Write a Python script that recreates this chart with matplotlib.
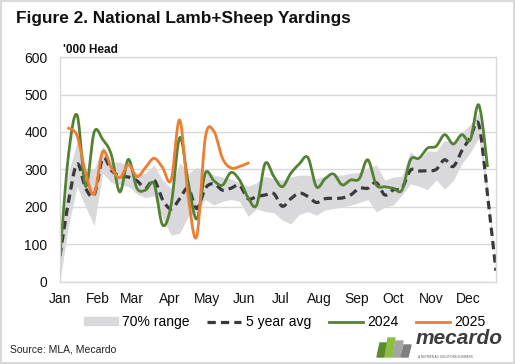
import numpy as np
import matplotlib.pyplot as plt
from matplotlib.lines import Line2D
from matplotlib.patches import Patch, Rectangle, Polygon

plt.rcParams['font.family'] = ['Liberation Sans', 'DejaVu Sans']

# weekly yardings, '000 head (week 1 .. week 52)
avg_5yr = [70, 215, 315, 250, 232, 330, 298, 282, 280, 270, 250, 272, 220, 195,
           222, 250, 196, 250, 262, 245, 250, 258, 222, 228, 232, 236, 202, 222,
           237, 228, 212, 222, 223, 224, 232, 250, 250, 265, 232, 246, 250, 298,
           296, 297, 300, 326, 308, 350, 385, 420, 235, 30]
range_hi = [90, 290, 375, 300, 300, 362, 320, 320, 310, 290, 290, 312, 272, 250,
            318, 290, 305, 300, 285, 280, 275, 265, 255, 265, 282, 275, 272, 280,
            285, 285, 276, 283, 285, 285, 290, 292, 305, 312, 272, 280, 282, 348,
            325, 350, 348, 378, 370, 400, 420, 450, 250, 35]
range_lo = [5, 150, 255, 200, 150, 290, 265, 260, 255, 235, 225, 230, 170, 125,
            130, 175, 185, 220, 205, 215, 220, 215, 175, 195, 188, 185, 165, 155,
            180, 188, 178, 192, 196, 200, 205, 212, 220, 187, 200, 205, 232, 262,
            255, 246, 272, 248, 270, 315, 345, 385, 220, 25]
y2024 = [70, 340, 445, 255, 400, 380, 340, 240, 327, 250, 245, 262, 152, 205,
         385, 265, 168, 290, 270, 258, 292, 272, 225, 205, 316, 282, 254, 290,
         315, 332, 254, 275, 288, 259, 272, 275, 326, 259, 254, 250, 245, 326,
         330, 357, 362, 393, 368, 393, 379, 472, 310]
# 2025 starts in week 2
y2025 = [410, 390, 290, 235, 348, 305, 278, 313, 281, 305, 330, 305, 272, 432,
         228, 122, 385, 402, 330, 304, 308, 317]

months = ['Jan', 'Feb', 'Mar', 'Apr', 'May', 'Jun', 'Jul', 'Aug', 'Sep', 'Oct', 'Nov', 'Dec']
month_start = [0, 31, 59, 90, 120, 151, 181, 212, 243, 273, 304, 334]


def smooth(x, y, n=20):
    # excel-style smoothed line (bezier with 1/6 tangents)
    x = np.asarray(x, float)
    y = np.asarray(y, float)
    px, py = [], []
    for i in range(len(x) - 1):
        x0, y0 = (x[i - 1], y[i - 1]) if i > 0 else (x[i], y[i])
        x3, y3 = (x[i + 2], y[i + 2]) if i + 2 < len(x) else (x[i + 1], y[i + 1])
        c1x = x[i] + (x[i + 1] - x0) / 6
        c1y = y[i] + (y[i + 1] - y0) / 6
        c2x = x[i + 1] - (x3 - x[i]) / 6
        c2y = y[i + 1] - (y3 - y[i]) / 6
        t = np.linspace(0, 1, n, endpoint=False)
        a, b, c, d = (1 - t) ** 3, 3 * t * (1 - t) ** 2, 3 * t ** 2 * (1 - t), t ** 3
        px.extend(a * x[i] + b * c1x + c * c2x + d * x[i + 1])
        py.extend(a * y[i] + b * c1y + c * c2y + d * y[i + 1])
    px.append(x[-1])
    py.append(y[-1])
    return px, py


days = np.arange(52) * 7

fig = plt.figure(figsize=(5.15, 3.64), dpi=100)
ax = fig.add_axes([0.1165, 0.2253, 0.8465, 0.6181])

grey = '#d9d9db'
green = '#548235'
orange = '#ed7d31'
dark = '#3a3a3c'

ax.fill_between(days, range_lo, range_hi, color=grey, lw=0)
ax.plot(*smooth(days, avg_5yr), color=dark, lw=2.3, dashes=(2.6, 1.6))
ax.plot(*smooth(days[:len(y2024)], y2024), color=green, lw=2.0)
ax.plot(*smooth(days[1:1 + len(y2025)], y2025), color=orange, lw=2.0)

ax.set_xlim(0, 357)
ax.set_ylim(0, 600)
ax.set_yticks(range(0, 601, 100))
ax.set_xticks(month_start)
ax.set_xticklabels(months)
ax.tick_params(axis='both', length=0, labelsize=10, colors='#111111')
ax.tick_params(axis='y', pad=9)
ax.tick_params(axis='x', pad=7)
ax.grid(axis='y', color='#d9d9d9', lw=1)
ax.set_axisbelow(True)
for s in ax.spines.values():
    s.set_color('#d9d9d9')
    s.set_linewidth(1)

fig.text(0.031, 0.95, 'Figure 2. National Lamb+Sheep Yardings', fontsize=12.4,
         fontweight='bold', va='center', ha='left', color='#111111')
fig.text(0.122, 0.862, "'000 Head", fontsize=8.5, fontweight='bold',
         va='center', ha='left', color='#111111')

handles = [Patch(color=grey),
           Line2D([], [], color=dark, lw=2.3, dashes=(2.6, 1.6)),
           Line2D([], [], color=green, lw=2.0),
           Line2D([], [], color=orange, lw=2.0)]
fig.legend(handles, ['70% range', '5 year avg', '2024', '2025'], loc='center',
           bbox_to_anchor=(0.553, 0.115), ncol=4, frameon=False, fontsize=10,
           handlelength=2.45, handletextpad=0.3, columnspacing=1.3,
           handleheight=0.5)

fig.text(0.019, 0.041, 'Source: MLA, Mecardo', fontsize=7.5, va='center',
         ha='left', color='#222222')

# mecardo logo
bars = [(377, 384, 343, '#5d8a2c'), (385, 392, 338, '#8cbf3f'),
        (393, 400, 341, '#a5a5a5'), (401, 408, 345, '#7f7f7f')]
for x0, x1, ytop, col in bars:
    pts = [(x0, 357), (x1, 357), (x1 + 3, ytop), (x0 + 3, ytop)]
    pts = [(px / 515, 1 - py / 364) for px, py in pts]
    fig.add_artist(Polygon(pts, closed=True, color=col, transform=fig.transFigure))
fig.text(0.807, 0.07, 'mecardo', fontsize=15, fontweight='bold',
         fontstyle='italic', va='center', ha='left', color='#3d3d3d')
fig.text(0.812, 0.018, 'A NUTRIEN AG SOLUTIONS BUSINESS', fontsize=2.2,
         va='center', ha='left', color='#555555')

fig.add_artist(Rectangle((0.001, 0.002), 0.997, 0.996, transform=fig.transFigure,
                         fill=False, edgecolor='#d9d9d9', lw=1.5))

fig.savefig('out.png', dpi=100)
